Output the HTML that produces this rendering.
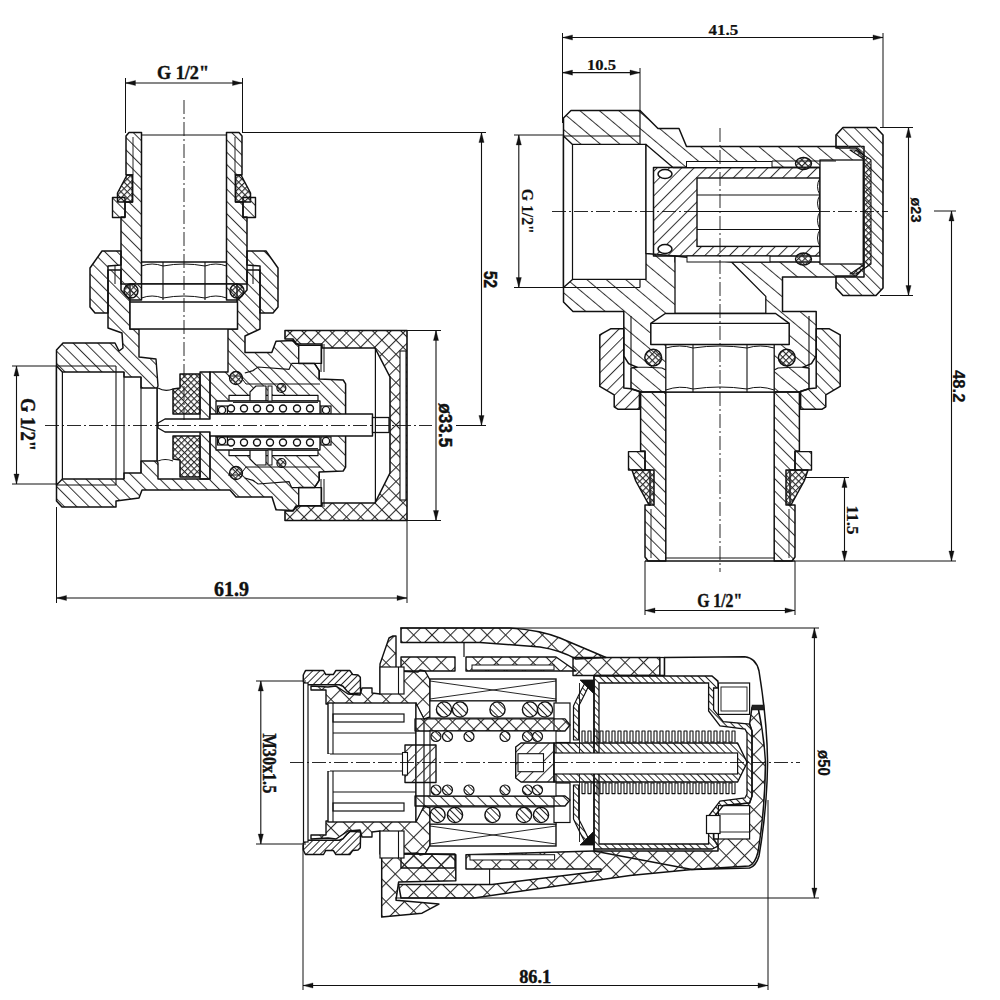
<!DOCTYPE html>
<html><head><meta charset="utf-8"><style>
html,body{margin:0;padding:0;background:#fff;}
svg{display:block;}
text{font-family:"Liberation Serif",serif;font-weight:bold;fill:#111;stroke:#111;stroke-width:0.5px;}
</style></head><body>
<svg width="1000" height="1000" viewBox="0 0 1000 1000">
<defs>
<pattern id="h" patternUnits="userSpaceOnUse" width="8.7" height="8.7" patternTransform="rotate(-45)"><rect x="0" y="0" width="1.0" height="8.7" fill="#333"/></pattern>
<pattern id="h2" patternUnits="userSpaceOnUse" width="8.7" height="8.7" patternTransform="rotate(45)"><rect x="0" y="0" width="1.0" height="8.7" fill="#333"/></pattern>
<pattern id="hm" patternUnits="userSpaceOnUse" width="12.5" height="12.5" patternTransform="rotate(-50)"><rect x="0" y="0" width="1.0" height="12.5" fill="#333"/></pattern>
<pattern id="hs" patternUnits="userSpaceOnUse" width="5" height="5" patternTransform="rotate(-45)"><rect x="0" y="0" width="1" height="5" fill="#2a2a2a"/></pattern>
<pattern id="hs2" patternUnits="userSpaceOnUse" width="5" height="5" patternTransform="rotate(45)"><rect x="0" y="0" width="1" height="5" fill="#2a2a2a"/></pattern>
<pattern id="x" patternUnits="userSpaceOnUse" width="10" height="10" patternTransform="rotate(45)"><rect x="0" y="0" width="1.05" height="10" fill="#2a2a2a"/><rect x="0" y="0" width="10" height="1.05" fill="#2a2a2a"/></pattern>
<pattern id="xl" patternUnits="userSpaceOnUse" width="13" height="13" patternTransform="rotate(45)"><rect x="0" y="0" width="1.05" height="13" fill="#2a2a2a"/><rect x="0" y="0" width="13" height="1.05" fill="#2a2a2a"/></pattern>
<pattern id="xs" patternUnits="userSpaceOnUse" width="4.5" height="4.5" patternTransform="rotate(45)"><rect x="0" y="0" width="1.1" height="4.5" fill="#2a2a2a"/><rect x="0" y="0" width="4.5" height="1.1" fill="#2a2a2a"/></pattern>
</defs>
<rect width="1000" height="1000" fill="#fff"/>

<polygon points="108,270 121,270 121,284 247,284 247,270 260,270 260,329 245,336 245,352.6 271.8,352.6 276,341.2 292.8,340.6 298.8,345.4 298.8,363.4 314.4,363.4 319.2,370.6 319.2,379 343.2,380 345.6,383.8 345.6,467.2 343.2,471 319.2,472 319.2,480.4 314.4,487.6 298.8,487.6 298.8,505.6 292.8,510.4 276,509.8 272,497 236,497 230,490 142,490 139,498 116,501 116,507 62,507 56.5,501 56.5,350 63,343 115,343 119,351 123,348 122,333 108,328" fill="url(#h)" stroke="#111" stroke-width="1.5" stroke-linejoin="round"/>
<polygon points="130,284 237,284 237,329 228,329 228,372 210,372 210,479 158,479 158,463 157,461 157,388 158,386 156,359 139,357 139,329 130,329" fill="#fff" stroke="#111" stroke-width="1.4" stroke-linejoin="round"/>
<polygon points="56.5,366 62.4,372 124,372 124,377 141,377 141,388 157,388 157,461 141,461 141,473 124,473 124,479 62.4,479 56.5,485" fill="#fff" stroke="#111" stroke-width="1.4" stroke-linejoin="round"/>
<line x1="56.5" y1="366" x2="116" y2="366" stroke="#111" stroke-width="1.2" />
<line x1="56.5" y1="485" x2="116" y2="485" stroke="#111" stroke-width="1.2" />
<line x1="62.4" y1="372" x2="62.4" y2="479" stroke="#111" stroke-width="1.2" />
<line x1="116" y1="366" x2="116" y2="485" stroke="#111" stroke-width="1.1" />
<line x1="124" y1="372" x2="124" y2="479" stroke="#111" stroke-width="1.1" />
<line x1="141" y1="377" x2="141" y2="473" stroke="#111" stroke-width="1.1" />
<path d="M158,388 Q165,392 173,389" fill="none" stroke="#111" stroke-width="1.2" stroke-linejoin="round"/>
<path d="M158,461 Q165,458 173,461" fill="none" stroke="#111" stroke-width="1.2" stroke-linejoin="round"/>
<polygon points="229,395.4 318,395.4 318,401 229,401" fill="#fff" stroke="#111" stroke-width="1.2" stroke-linejoin="round"/>
<polygon points="250,401 250,392 256,386 266,386 266,401" fill="#fff" stroke="#111" stroke-width="1.2" stroke-linejoin="round"/>
<polygon points="216,401 320,401 320,414 216,414" fill="#fff" stroke="#111" stroke-width="1.3" stroke-linejoin="round"/>
<line x1="233" y1="402.5" x2="318" y2="402.5" stroke="#111" stroke-width="0.9" />
<rect x="217.6" y="406" width="9.8" height="8" fill="#fff" stroke="#111" stroke-width="1.2"/>
<rect x="321" y="406" width="10" height="8" fill="#fff" stroke="#111" stroke-width="1.2"/>
<polygon points="298.8,345.4 321.6,345.4 321.6,363.4 298.8,363.4" fill="#fff" stroke="#111" stroke-width="1.2" stroke-linejoin="round"/>
<line x1="321" y1="344" x2="321" y2="372" stroke="#111" stroke-width="1.0" />
<line x1="324" y1="344" x2="324" y2="372" stroke="#111" stroke-width="1.0" />
<polyline points="291.6,363.4 314.4,363.4 319.2,370.6 319.2,379" fill="none" stroke="#111" stroke-width="1.2" />
<polyline points="244.8,373 253,370.6 258,367 289,369.4 291.6,363.4" fill="none" stroke="#111" stroke-width="1.2" />
<polyline points="228,376 240,376 246,384 320,384" fill="none" stroke="#111" stroke-width="1.0" />
<rect x="268" y="386" width="4" height="15" fill="#fff" stroke="#111" stroke-width="1.0"/>
<circle cx="231" cy="408.5" r="3.5" fill="#fff" stroke="#111" stroke-width="1.4"/>
<circle cx="244" cy="408.5" r="3.5" fill="#fff" stroke="#111" stroke-width="1.4"/>
<circle cx="257" cy="408.5" r="3.5" fill="#fff" stroke="#111" stroke-width="1.4"/>
<circle cx="270" cy="408.5" r="3.5" fill="#fff" stroke="#111" stroke-width="1.4"/>
<circle cx="283" cy="408.5" r="3.5" fill="#fff" stroke="#111" stroke-width="1.4"/>
<circle cx="297" cy="408.5" r="3.5" fill="#fff" stroke="#111" stroke-width="1.4"/>
<circle cx="310" cy="408.5" r="3.5" fill="#fff" stroke="#111" stroke-width="1.4"/>
<circle cx="222" cy="410" r="3.6" fill="#fff" stroke="#111" stroke-width="1.3"/>
<circle cx="326" cy="410" r="3.6" fill="#fff" stroke="#111" stroke-width="1.3"/>
<circle cx="236" cy="378" r="6.5" fill="url(#xs)" stroke="#111" stroke-width="1.3"/>
<circle cx="281.4" cy="388" r="4.5" fill="url(#xs)" stroke="#111" stroke-width="1.2"/>
<polygon points="229,455.6 318,455.6 318,450 229,450" fill="#fff" stroke="#111" stroke-width="1.2" stroke-linejoin="round"/>
<polygon points="250,450 250,459 256,465 266,465 266,450" fill="#fff" stroke="#111" stroke-width="1.2" stroke-linejoin="round"/>
<polygon points="216,450 320,450 320,437 216,437" fill="#fff" stroke="#111" stroke-width="1.3" stroke-linejoin="round"/>
<line x1="233" y1="448.5" x2="318" y2="448.5" stroke="#111" stroke-width="0.9" />
<rect x="217.6" y="437" width="9.8" height="8" fill="#fff" stroke="#111" stroke-width="1.2"/>
<rect x="321" y="437" width="10" height="8" fill="#fff" stroke="#111" stroke-width="1.2"/>
<polygon points="298.8,505.6 321.6,505.6 321.6,487.6 298.8,487.6" fill="#fff" stroke="#111" stroke-width="1.2" stroke-linejoin="round"/>
<line x1="321" y1="507" x2="321" y2="479" stroke="#111" stroke-width="1.0" />
<line x1="324" y1="507" x2="324" y2="479" stroke="#111" stroke-width="1.0" />
<polyline points="291.6,487.6 314.4,487.6 319.2,480.4 319.2,472" fill="none" stroke="#111" stroke-width="1.2" />
<polyline points="244.8,478 253,480.4 258,484 289,481.6 291.6,487.6" fill="none" stroke="#111" stroke-width="1.2" />
<polyline points="228,475 240,475 246,467 320,467" fill="none" stroke="#111" stroke-width="1.0" />
<rect x="268" y="450" width="4" height="15" fill="#fff" stroke="#111" stroke-width="1.0"/>
<circle cx="231" cy="442.5" r="3.5" fill="#fff" stroke="#111" stroke-width="1.4"/>
<circle cx="244" cy="442.5" r="3.5" fill="#fff" stroke="#111" stroke-width="1.4"/>
<circle cx="257" cy="442.5" r="3.5" fill="#fff" stroke="#111" stroke-width="1.4"/>
<circle cx="270" cy="442.5" r="3.5" fill="#fff" stroke="#111" stroke-width="1.4"/>
<circle cx="283" cy="442.5" r="3.5" fill="#fff" stroke="#111" stroke-width="1.4"/>
<circle cx="297" cy="442.5" r="3.5" fill="#fff" stroke="#111" stroke-width="1.4"/>
<circle cx="310" cy="442.5" r="3.5" fill="#fff" stroke="#111" stroke-width="1.4"/>
<circle cx="222" cy="441" r="3.6" fill="#fff" stroke="#111" stroke-width="1.3"/>
<circle cx="326" cy="441" r="3.6" fill="#fff" stroke="#111" stroke-width="1.3"/>
<circle cx="236" cy="473" r="6.5" fill="url(#xs)" stroke="#111" stroke-width="1.3"/>
<circle cx="281.4" cy="463" r="4.5" fill="url(#xs)" stroke="#111" stroke-width="1.2"/>
<polygon points="180,374 200,374 200,414 173,414 173,389 180,388" fill="url(#xs)" stroke="#111" stroke-width="1.5" stroke-linejoin="round"/>
<polygon points="173,436 200,436 200,477 180,477 180,460 173,459" fill="url(#xs)" stroke="#111" stroke-width="1.5" stroke-linejoin="round"/>
<polygon points="200,372 210,372 210,479 200,479" fill="url(#h)" stroke="#111" stroke-width="1.3" stroke-linejoin="round"/>
<polygon points="165,419 210,419 210,414 372.5,414 372.5,436 210,436 210,432 165,432 158,428 158,423" fill="#fff" stroke="#111" stroke-width="1.4" stroke-linejoin="round"/>
<rect x="372.5" y="417.5" width="16.5" height="15" fill="#fff" stroke="#111" stroke-width="1.3"/>
<polygon points="285,330.5 407,330.5 407,520.5 285,520.5 285,511 293,511 296,506 322,506 322,503 375,503 390,473 390,377 375,348 322,348 322,344 296,344 293,339 285,339" fill="url(#x)" stroke="#111" stroke-width="1.6" stroke-linejoin="round"/>
<rect x="400" y="351" width="6" height="149" fill="#fff" stroke="#111" stroke-width="1.1"/>
<line x1="375.4" y1="348" x2="375.4" y2="503" stroke="#111" stroke-width="1.2" />
<polygon points="129,132.5 141.5,132.5 141.5,300 130,300 121,290 121,217 125,217 125,202 132.5,202 132.5,175 126,175 126,136" fill="url(#h)" stroke="#111" stroke-width="1.5" stroke-linejoin="round"/>
<polygon points="239,132.5 226.5,132.5 226.5,300 238,300 247,290 247,217 243,217 243,202 235.5,202 235.5,175 242,175 242,136" fill="url(#h)" stroke="#111" stroke-width="1.5" stroke-linejoin="round"/>
<line x1="141.5" y1="135" x2="226.5" y2="135" stroke="#111" stroke-width="1.0" />
<line x1="133" y1="137" x2="133" y2="175" stroke="#111" stroke-width="0.9" />
<line x1="235" y1="137" x2="235" y2="175" stroke="#111" stroke-width="0.9" />
<polygon points="127,175 132.5,175 132.5,202 117.5,202 117.5,193" fill="url(#xs)" stroke="#111" stroke-width="1.5" stroke-linejoin="round"/>
<polygon points="241,175 235.5,175 235.5,202 250.5,202 250.5,193" fill="url(#xs)" stroke="#111" stroke-width="1.5" stroke-linejoin="round"/>
<polygon points="112.5,197.5 125,197.5 125,217.5 112.5,217.5" fill="url(#h)" stroke="#111" stroke-width="1.4" stroke-linejoin="round"/>
<polygon points="255.5,197.5 243,197.5 243,217.5 255.5,217.5" fill="url(#h)" stroke="#111" stroke-width="1.4" stroke-linejoin="round"/>
<polygon points="102,251 121,251 121,265 108,266 108,313 95,313 90,307 90,268" fill="url(#h)" stroke="#111" stroke-width="1.5" stroke-linejoin="round"/>
<polygon points="266,251 247,251 247,265 260,266 260,313 273,313 278,307 278,268" fill="url(#h)" stroke="#111" stroke-width="1.5" stroke-linejoin="round"/>
<line x1="115" y1="266" x2="115" y2="284" stroke="#111" stroke-width="1.0" />
<line x1="253" y1="266" x2="253" y2="284" stroke="#111" stroke-width="1.0" />
<line x1="141.5" y1="262" x2="226.5" y2="262" stroke="#111" stroke-width="1.3" />
<line x1="163" y1="262" x2="163" y2="300" stroke="#111" stroke-width="1.1" />
<line x1="205" y1="262" x2="205" y2="300" stroke="#111" stroke-width="1.1" />
<path d="M141.5,266 Q152,262 163,266 Q184,262 205,266 Q216,262 226.5,266" fill="none" stroke="#111" stroke-width="1.0" stroke-linejoin="round"/>
<path d="M141.5,298 Q152,294 163,298 Q184,294 205,298 Q216,294 226.5,298" fill="none" stroke="#111" stroke-width="1.0" stroke-linejoin="round"/>
<rect x="130" y="302" width="107.5" height="27" fill="#fff" stroke="#111" stroke-width="1.5"/>
<circle cx="131" cy="291" r="7" fill="url(#xs)" stroke="#111" stroke-width="1.4"/>
<circle cx="237" cy="291" r="7" fill="url(#xs)" stroke="#111" stroke-width="1.4"/>
<line x1="184" y1="100" x2="184" y2="420" stroke="#111" stroke-width="0.9" stroke-dasharray="14,3,2,3"/>
<line x1="45" y1="425.5" x2="432" y2="425.5" stroke="#111" stroke-width="0.9" stroke-dasharray="14,3,2,3"/>
<line x1="456" y1="425.5" x2="486" y2="425.5" stroke="#111" stroke-width="1.0" />
<polygon points="563.5,118 571,110.5 640,110.5 658,128.5 679,128.5 686.5,146.5 864,146.5 864,277 782.5,277 782.5,311.5 816.2,311.5 816.2,356 811.4,363.6 803,367.2 809,368 809,388.8 799.4,392 640.6,392 631,388.8 631,368 637,367.2 628.6,363.6 623.8,356 623.8,311.5 573,311.5 563.5,302" fill="url(#hm)" stroke="#111" stroke-width="1.5" stroke-linejoin="round"/>
<polygon points="563.5,136 572.5,144.4 646,144.4 646,279.4 572.5,279.4 563.5,287.5" fill="#fff" stroke="#111" stroke-width="1.4" stroke-linejoin="round"/>
<line x1="563.5" y1="136" x2="640" y2="136" stroke="#111" stroke-width="1.2" />
<line x1="563.5" y1="287.5" x2="640" y2="287.5" stroke="#111" stroke-width="1.2" />
<line x1="640" y1="110.5" x2="640" y2="144.4" stroke="#111" stroke-width="1.2" />
<line x1="640" y1="279.4" x2="640" y2="287.5" stroke="#111" stroke-width="1.2" />
<line x1="572.5" y1="144.4" x2="572.5" y2="279.4" stroke="#111" stroke-width="1.2" />
<polygon points="646,144.4 673,167.5 836,167.5 836,262 675,262 675,256 646,253.5" fill="#fff" stroke="#111" stroke-width="1.3" stroke-linejoin="round"/>
<polygon points="675,256 731.5,262 765.8,296.4 765.8,313.5 675,313.5" fill="#fff" stroke="#111" stroke-width="1.3" stroke-linejoin="round"/>
<polygon points="653.5,167.5 820,167.5 820,256 653.5,256" fill="url(#h2)" stroke="#111" stroke-width="1.5" stroke-linejoin="round"/>
<rect x="697" y="178" width="123" height="68.4" fill="#fff" stroke="#111" stroke-width="1.4"/>
<line x1="697" y1="195" x2="820" y2="195" stroke="#111" stroke-width="1.1" />
<line x1="697" y1="211.5" x2="820" y2="211.5" stroke="#111" stroke-width="1.1" />
<line x1="697" y1="229.5" x2="820" y2="229.5" stroke="#111" stroke-width="1.1" />
<path d="M820,178 Q815,186.5 820,195 Q815,203 820,211.5 Q815,220 820,229.5 Q815,238 820,246.4" fill="none" stroke="#111" stroke-width="1.0" stroke-linejoin="round"/>
<rect x="820" y="160" width="43.5" height="104" fill="#fff" stroke="#111" stroke-width="1.3"/>
<line x1="772" y1="161" x2="836" y2="161" stroke="#111" stroke-width="1.0" />
<rect x="686.5" y="161.5" width="85.5" height="6" fill="#fff" stroke="#111" stroke-width="1.0"/>
<rect x="687" y="256" width="83" height="6" fill="#fff" stroke="#111" stroke-width="1.0"/>
<ellipse cx="665" cy="174" rx="7" ry="4.5" fill="#fff" stroke="#111" stroke-width="1.5"/>
<ellipse cx="665" cy="249" rx="7" ry="4.5" fill="#fff" stroke="#111" stroke-width="1.5"/>
<ellipse cx="803.5" cy="163.5" rx="8" ry="6" fill="url(#xs)" stroke="#111" stroke-width="1.4"/>
<ellipse cx="803.5" cy="259" rx="8" ry="6" fill="url(#xs)" stroke="#111" stroke-width="1.4"/>
<polygon points="836,135 843,127.5 876,127.5 883,135 883,288 876,295.5 843,295.5 836,288 836,276 856,276 863.5,268 863.5,155 856,148 836,148" fill="url(#h)" stroke="#111" stroke-width="1.6" stroke-linejoin="round"/>
<polygon points="850,150 856,150 871,160 871,264 856,274 850,274 863.5,265 863.5,159" fill="url(#xs)" stroke="#111" stroke-width="1.1" stroke-linejoin="round"/>
<line x1="631" y1="316" x2="631" y2="367" stroke="#111" stroke-width="1.1" />
<line x1="809" y1="316" x2="809" y2="367" stroke="#111" stroke-width="1.1" />
<polygon points="640.6,392 665.8,392 665.8,561 648,561 645,557 645,505 650,505 650,470 645,470 645,451 640.6,451" fill="url(#h)" stroke="#111" stroke-width="1.5" stroke-linejoin="round"/>
<polygon points="799.4,392 774.2,392 774.2,561 792,561 795,557 795,505 790,505 790,470 795,470 795,451 799.4,451" fill="url(#h)" stroke="#111" stroke-width="1.5" stroke-linejoin="round"/>
<line x1="651" y1="509" x2="651" y2="558" stroke="#111" stroke-width="0.9" />
<line x1="789" y1="509" x2="789" y2="558" stroke="#111" stroke-width="0.9" />
<line x1="665.8" y1="558" x2="774.2" y2="558" stroke="#111" stroke-width="1.0" />
<line x1="645" y1="561" x2="795" y2="561" stroke="#111" stroke-width="1.5" />
<polygon points="632,470 654,470 654,505 649,505 635.8,481" fill="url(#xs)" stroke="#111" stroke-width="1.5" stroke-linejoin="round"/>
<polygon points="808,470 786,470 786,505 791,505 804.2,481" fill="url(#xs)" stroke="#111" stroke-width="1.5" stroke-linejoin="round"/>
<polygon points="628.5,451.6 645,451.6 645,470 628.5,470" fill="url(#h)" stroke="#111" stroke-width="1.4" stroke-linejoin="round"/>
<polygon points="811.5,451.6 795,451.6 795,470 811.5,470" fill="url(#h)" stroke="#111" stroke-width="1.4" stroke-linejoin="round"/>
<polygon points="610.6,328.8 623.8,328.8 623.8,388 631,388.8 639.4,391.2 639.4,409.2 617.8,409.2 614.2,406.8 614.2,394.8 599.8,386.4 599.8,334.8" fill="url(#h2)" stroke="#111" stroke-width="1.5" stroke-linejoin="round"/>
<polygon points="829.4,328.8 816.2,328.8 816.2,388 809,388.8 800.6,391.2 800.6,409.2 822.2,409.2 825.8,406.8 825.8,394.8 840.2,386.4 840.2,334.8" fill="url(#h)" stroke="#111" stroke-width="1.5" stroke-linejoin="round"/>
<rect x="665.8" y="344.4" width="108.4" height="47.6" fill="#fff" stroke="#111" stroke-width="1.3"/>
<line x1="693" y1="344.4" x2="693" y2="392" stroke="#111" stroke-width="1.1" />
<line x1="747" y1="344.4" x2="747" y2="392" stroke="#111" stroke-width="1.1" />
<path d="M665.8,348 Q680,344 693,348 Q720,344 747,348 Q760,344 774.2,348" fill="none" stroke="#111" stroke-width="1.0" stroke-linejoin="round"/>
<path d="M665.8,390 Q680,385 693,389 Q720,385 747,389 Q760,385 774.2,390" fill="none" stroke="#111" stroke-width="1.0" stroke-linejoin="round"/>
<polygon points="650.8,344.4 650.8,323.4 665.3,313.5 775.6,313.5 789.2,323.4 789.2,344.4" fill="#fff" stroke="#111" stroke-width="1.5" stroke-linejoin="round"/>
<line x1="650.8" y1="323.4" x2="789.2" y2="323.4" stroke="#111" stroke-width="1.1" />
<polyline points="637,367.2 647,367.2 662,368 665.8,370" fill="none" stroke="#111" stroke-width="1.1" />
<polyline points="803,367.2 793,367.2 778,368 774.2,370" fill="none" stroke="#111" stroke-width="1.1" />
<circle cx="653.2" cy="357.6" r="8.4" fill="url(#xs)" stroke="#111" stroke-width="1.5"/>
<circle cx="786.8" cy="357.6" r="8.4" fill="url(#xs)" stroke="#111" stroke-width="1.5"/>
<line x1="720" y1="128" x2="720" y2="572" stroke="#111" stroke-width="0.9" stroke-dasharray="14,3,2,3"/>
<line x1="552" y1="211.5" x2="888" y2="211.5" stroke="#111" stroke-width="0.9" stroke-dasharray="14,3,2,3"/>
<path d="M401,628 L510,628 Q540,630 560,638 L606,657.5 L576,659 Q560,650 540,647 L480,642.5 L401,642.5 Z" fill="url(#xl)" stroke="#111" stroke-width="1.5" stroke-linejoin="round"/>
<line x1="464" y1="642.5" x2="464" y2="657" stroke="#111" stroke-width="1.2" />
<polygon points="401,657 455,657 455,671 401,671" fill="url(#xl)" stroke="#111" stroke-width="1.4" stroke-linejoin="round"/>
<polygon points="466,657 556,657 576,671 466,671" fill="url(#xl)" stroke="#111" stroke-width="1.4" stroke-linejoin="round"/>
<rect x="472" y="665" width="82" height="5" fill="#fff" stroke="#111" stroke-width="1.0"/>
<polygon points="573,657.5 660,657.5 660,675.5 573,675.5" fill="url(#xl)" stroke="#111" stroke-width="1.4" stroke-linejoin="round"/>
<rect x="660" y="657.5" width="4.5" height="18" fill="#fff" stroke="#111" stroke-width="1.2"/>
<path d="M664.5,657.5 L744.8,656.8 Q756,658 759,671 Q767,720 767.6,762 Q767,810 759,856 Q756,866 749.6,868 L692,869.5 L594,851 L594,675.5 L664.5,675.5 Z" fill="#fff" stroke="#111" stroke-width="1.5" stroke-linejoin="round"/>
<path d="M466,854.7 L594,851 L718,851 L718,846 L713.6,839 L713.6,817.6 L723.2,805.6 L749.6,803 L752,796 L752,731 L749.6,724 L752,707 L758,707 Q764,735 765.5,762 Q765,810 758,852 Q755,864 749,866 L692,869.5 L630,875.5 L474,898 L401,898 L398.6,884.6 L492,884.6 L601,871 L601,869 L466,869 Z" fill="url(#xl)" stroke="#111" stroke-width="1.5" stroke-linejoin="round"/>
<rect x="752" y="705" width="12" height="5" fill="#222" stroke="#111" stroke-width="0.5"/>
<rect x="718.4" y="683" width="31.2" height="31.4" fill="#fff" stroke="#111" stroke-width="1.2"/>
<rect x="721" y="687" width="26" height="24" fill="none" stroke="#111" stroke-width="0.9"/>
<rect x="718.4" y="805.6" width="31.2" height="33.4" fill="#fff" stroke="#111" stroke-width="1.2"/>
<line x1="718.4" y1="814" x2="749.6" y2="814" stroke="#111" stroke-width="0.9" />
<line x1="718.4" y1="832" x2="749.6" y2="832" stroke="#111" stroke-width="0.9" />
<rect x="470" y="854.7" width="84.6" height="5.3" fill="#fff" stroke="#111" stroke-width="1.0"/>
<line x1="489.6" y1="869" x2="489.6" y2="884.6" stroke="#111" stroke-width="1.1" />
<polygon points="381.7,856 404,853.4 455.8,854.7 455.8,880.7 398.6,882 396,900.2 438.9,904.1 422,913.2 381.7,917.1" fill="url(#xl)" stroke="#111" stroke-width="1.5" stroke-linejoin="round"/>
<polygon points="401,854 455,854 455,868 401,868" fill="url(#xl)" stroke="#111" stroke-width="1.4" stroke-linejoin="round"/>
<polygon points="303.3,675 305.5,670.5 323.5,670.5 325.8,674.6 333.3,674.6 335.9,670.5 349.8,670.5 352.8,674.6 358,675 360.3,677.3 360.6,693 350.5,693.8 346.8,690.8 343,686.3 339.3,684.8 307.8,684.8 303.3,681.8" fill="url(#hs2)" stroke="#111" stroke-width="1.5" stroke-linejoin="round"/>
<polygon points="303.3,850 305.5,854.5 323.5,854.5 325.8,850.4 333.3,850.4 335.9,854.5 349.8,854.5 352.8,850.4 358,850 360.3,847.7 360.6,832 350.5,831.2 346.8,834.2 343,838.7 339.3,840.2 307.8,840.2 303.3,843.2" fill="url(#hs2)" stroke="#111" stroke-width="1.5" stroke-linejoin="round"/>
<rect x="303.5" y="683" width="4.5" height="159" fill="#fff" stroke="#111" stroke-width="1.2"/>
<polygon points="311,686 328,687 336,686 348,694 360,695 362,688 372,688 372,693 380,694 380,664 389,638 393,636 396,636 396,671 418,672 420,670 425,671 430,680 430,717 424,719 416,704 326,704 326,690 311,690" fill="url(#xl)" stroke="#111" stroke-width="1.4" stroke-linejoin="round"/>
<polygon points="311,839 328,838 336,839 348,831 360,830 362,837 372,837 372,832 380,831 380,854 396,854 418,853 420,855 425,854 430,845 430,808 424,806 416,821 326,821 326,835 311,835" fill="url(#xl)" stroke="#111" stroke-width="1.4" stroke-linejoin="round"/>
<rect x="380" y="667" width="24" height="27" fill="#fff" stroke="#111" stroke-width="1.2"/>
<line x1="398.5" y1="667" x2="398.5" y2="694" stroke="#111" stroke-width="1.1" />
<rect x="380" y="831" width="24" height="27" fill="#fff" stroke="#111" stroke-width="1.2"/>
<line x1="398.5" y1="831" x2="398.5" y2="858" stroke="#111" stroke-width="1.1" />
<rect x="328" y="703" width="88" height="119" fill="#fff" stroke="#111" stroke-width="1.4"/>
<polygon points="416,703 424,719 424,806 416,822" fill="#fff" stroke="#111" stroke-width="1.2" stroke-linejoin="round"/>
<rect x="333" y="714" width="71" height="8" fill="#fff" stroke="#111" stroke-width="1.2"/>
<rect x="333" y="803" width="71" height="8" fill="#fff" stroke="#111" stroke-width="1.2"/>
<line x1="333" y1="733" x2="416" y2="733" stroke="#111" stroke-width="1.2" />
<line x1="333" y1="792" x2="416" y2="792" stroke="#111" stroke-width="1.2" />
<line x1="328" y1="754" x2="404" y2="754" stroke="#111" stroke-width="1.2" />
<line x1="328" y1="771" x2="404" y2="771" stroke="#111" stroke-width="1.2" />
<line x1="333" y1="703" x2="333" y2="754" stroke="#111" stroke-width="1.1" />
<line x1="333" y1="771" x2="333" y2="822" stroke="#111" stroke-width="1.1" />
<rect x="326" y="754" width="4" height="17" fill="#fff" stroke="#111" stroke-width="0"/>
<rect x="430" y="679" width="126" height="22" fill="#fff" stroke="#111" stroke-width="1.4"/>
<line x1="430" y1="681" x2="556" y2="699" stroke="#111" stroke-width="0.9" />
<line x1="430" y1="699" x2="556" y2="681" stroke="#111" stroke-width="0.9" />
<rect x="430" y="824" width="126" height="22" fill="#fff" stroke="#111" stroke-width="1.4"/>
<line x1="430" y1="826" x2="556" y2="844" stroke="#111" stroke-width="0.9" />
<line x1="430" y1="844" x2="556" y2="826" stroke="#111" stroke-width="0.9" />
<rect x="430" y="701" width="126" height="17" fill="#fff" stroke="#111" stroke-width="1.0"/>
<rect x="430" y="807" width="126" height="17" fill="#fff" stroke="#111" stroke-width="1.0"/>
<circle cx="444" cy="709.5" r="7.6" fill="url(#hs)" stroke="#111" stroke-width="1.4"/>
<circle cx="460" cy="709.5" r="7.6" fill="url(#hs)" stroke="#111" stroke-width="1.4"/>
<circle cx="497.5" cy="709.5" r="7.6" fill="url(#hs)" stroke="#111" stroke-width="1.4"/>
<circle cx="530" cy="709.5" r="7.6" fill="url(#hs)" stroke="#111" stroke-width="1.4"/>
<circle cx="545" cy="709.5" r="7.6" fill="url(#hs)" stroke="#111" stroke-width="1.4"/>
<circle cx="437.5" cy="815" r="7.6" fill="url(#hs)" stroke="#111" stroke-width="1.4"/>
<circle cx="455" cy="815" r="7.6" fill="url(#hs)" stroke="#111" stroke-width="1.4"/>
<circle cx="492.5" cy="815" r="7.6" fill="url(#hs)" stroke="#111" stroke-width="1.4"/>
<circle cx="524" cy="815" r="7.6" fill="url(#hs)" stroke="#111" stroke-width="1.4"/>
<circle cx="541" cy="815" r="7.6" fill="url(#hs)" stroke="#111" stroke-width="1.4"/>
<rect x="554" y="703" width="16" height="39.5" fill="#fff" stroke="#111" stroke-width="1.2"/>
<rect x="554" y="783" width="16" height="39.5" fill="#fff" stroke="#111" stroke-width="1.2"/>
<polygon points="415,718.8 565,718.8 570,725 565,731 415,731" fill="url(#x)" stroke="#111" stroke-width="1.3" stroke-linejoin="round"/>
<polygon points="415,796 565,796 570,800 565,806 415,806" fill="url(#h)" stroke="#111" stroke-width="1.3" stroke-linejoin="round"/>
<rect x="430" y="731" width="126" height="65" fill="#fff" stroke="#111" stroke-width="1.1"/>
<circle cx="436" cy="736.5" r="5" fill="url(#hs)" stroke="#111" stroke-width="1.2"/>
<circle cx="436" cy="790" r="5" fill="url(#hs)" stroke="#111" stroke-width="1.2"/>
<circle cx="447.5" cy="736.5" r="5" fill="url(#hs)" stroke="#111" stroke-width="1.2"/>
<circle cx="447.5" cy="790" r="5" fill="url(#hs)" stroke="#111" stroke-width="1.2"/>
<circle cx="469" cy="736.5" r="5" fill="url(#hs)" stroke="#111" stroke-width="1.2"/>
<circle cx="469" cy="790" r="5" fill="url(#hs)" stroke="#111" stroke-width="1.2"/>
<circle cx="505" cy="736.5" r="5" fill="url(#hs)" stroke="#111" stroke-width="1.2"/>
<circle cx="505" cy="790" r="5" fill="url(#hs)" stroke="#111" stroke-width="1.2"/>
<circle cx="527.5" cy="736.5" r="5" fill="url(#hs)" stroke="#111" stroke-width="1.2"/>
<circle cx="527.5" cy="790" r="5" fill="url(#hs)" stroke="#111" stroke-width="1.2"/>
<circle cx="537.5" cy="736.5" r="5" fill="url(#hs)" stroke="#111" stroke-width="1.2"/>
<circle cx="537.5" cy="790" r="5" fill="url(#hs)" stroke="#111" stroke-width="1.2"/>
<polygon points="405,745 436,745 436,782.5 405,782.5" fill="url(#h2)" stroke="#111" stroke-width="1.4" stroke-linejoin="round"/>
<rect x="402.5" y="752.5" width="5" height="22.5" fill="#fff" stroke="#111" stroke-width="1.1"/>
<path d="M594,676 L712,676 L718,681 L718,688 L713.6,688 L713.6,709.6 L723.2,721.6 L749.6,724 L752,731 L752,796 L749.6,803 L723.2,805.6 L713.6,817.6 L713.6,839 L718,839 L718,846 L712,849 L594,849 Z M599,683 L708.6,683 L708.6,711 L720,726 L745,729 L747,733 L747,794 L745,798 L720,801 L708.6,816 L708.6,844 L599,844 Z" fill="url(#hs)" fill-rule="evenodd" stroke="#111" stroke-width="1.3"/>
<path d="M590,683 Q586,692 578.7,706 L578.7,740 L573.5,740 L573.5,706 Q580,692 585,683 Z" fill="url(#hs)" stroke="#111" stroke-width="1.2" stroke-linejoin="round"/>
<path d="M590,842 Q586,833 578.7,819 L578.7,785 L573.5,785 L573.5,819 Q580,833 585,842 Z" fill="url(#hs)" stroke="#111" stroke-width="1.2" stroke-linejoin="round"/>
<line x1="579.5" y1="683" x2="579.5" y2="842" stroke="#111" stroke-width="0.9" />
<polygon points="580,680 594,680 594,694" fill="#111" stroke="#111" stroke-width="0.8" stroke-linejoin="round"/>
<polygon points="580,845 594,845 594,831" fill="#111" stroke="#111" stroke-width="0.8" stroke-linejoin="round"/>
<path d="M582,742 L582,742 L582,731 L585,731 L585,742 L588,742 L588,731 L591,731 L591,742 L594,742 L594,731 L597,731 L597,742 L600,742 L600,731 L603,731 L603,742 L606,742 L606,731 L609,731 L609,742 L612,742 L612,731 L615,731 L615,742 L618,742 L618,731 L621,731 L621,742 L624,742 L624,731 L627,731 L627,742 L630,742 L630,731 L633,731 L633,742 L636,742 L636,731 L639,731 L639,742 L642,742 L642,731 L645,731 L645,742 L648,742 L648,731 L651,731 L651,742 L654,742 L654,731 L657,731 L657,742 L660,742 L660,731 L663,731 L663,742 L666,742 L666,731 L669,731 L669,742 L672,742 L672,731 L675,731 L675,742 L678,742 L678,731 L681,731 L681,742 L684,742 L684,731 L687,731 L687,742 L690,742 L690,731 L693,731 L693,742 L696,742 L696,731 L699,731 L699,742 L702,742 L702,731 L705,731 L705,742 L708,742 L708,731 L711,731 L711,742 L714,742 L714,731 L717,731 L717,742 L720,742 L720,731 L723,731 L723,742 L726,742 L726,731 L729,731 L729,742 L732,742 L732,731 L735,731 L735,742" fill="none" stroke="#111" stroke-width="1.1" stroke-linejoin="round"/>
<path d="M582,784 L582,783 L582,793.6 L585,793.6 L585,783 L588,783 L588,793.6 L591,793.6 L591,783 L594,783 L594,793.6 L597,793.6 L597,783 L600,783 L600,793.6 L603,793.6 L603,783 L606,783 L606,793.6 L609,793.6 L609,783 L612,783 L612,793.6 L615,793.6 L615,783 L618,783 L618,793.6 L621,793.6 L621,783 L624,783 L624,793.6 L627,793.6 L627,783 L630,783 L630,793.6 L633,793.6 L633,783 L636,783 L636,793.6 L639,793.6 L639,783 L642,783 L642,793.6 L645,793.6 L645,783 L648,783 L648,793.6 L651,793.6 L651,783 L654,783 L654,793.6 L657,793.6 L657,783 L660,783 L660,793.6 L663,793.6 L663,783 L666,783 L666,793.6 L669,793.6 L669,783 L672,783 L672,793.6 L675,793.6 L675,783 L678,783 L678,793.6 L681,793.6 L681,783 L684,783 L684,793.6 L687,793.6 L687,783 L690,783 L690,793.6 L693,793.6 L693,783 L696,783 L696,793.6 L699,793.6 L699,783 L702,783 L702,793.6 L705,793.6 L705,783 L708,783 L708,793.6 L711,793.6 L711,783 L714,783 L714,793.6 L717,793.6 L717,783 L720,783 L720,793.6 L723,793.6 L723,783 L726,783 L726,793.6 L729,793.6 L729,783 L732,783 L732,793.6 L735,793.6 L735,783" fill="none" stroke="#111" stroke-width="1.1" stroke-linejoin="round"/>
<path d="M554,743 L737.6,743 L747.2,762.5 L737.6,782 L554,782 Z" fill="url(#hs)" stroke="#111" stroke-width="1.4" stroke-linejoin="round"/>
<rect x="554" y="753" width="183.6" height="21" fill="#fff" stroke="#111" stroke-width="1.2"/>
<polygon points="515.7,747 521,743 554,743 554,782 521,782 515.7,778" fill="url(#h2)" stroke="#111" stroke-width="1.4" stroke-linejoin="round"/>
<rect x="518" y="753.7" width="25.5" height="18" fill="#fff" stroke="#111" stroke-width="1.1"/>
<rect x="706.5" y="815.5" width="13.5" height="18" fill="#fff" stroke="#111" stroke-width="1.2"/>
<line x1="290" y1="762.5" x2="800" y2="762.5" stroke="#111" stroke-width="0.9" stroke-dasharray="14,3,2,3"/>
<line x1="125.5" y1="83" x2="242.5" y2="83" stroke="#111" stroke-width="1.1" /><polygon points="125.5,83 135.5,80.4 135.5,85.6" fill="#111" stroke="#111" stroke-width="0.3" stroke-linejoin="round"/><polygon points="242.5,83 232.5,85.6 232.5,80.4" fill="#111" stroke="#111" stroke-width="0.3" stroke-linejoin="round"/>
<line x1="125.5" y1="78" x2="125.5" y2="133" stroke="#111" stroke-width="1.0" />
<line x1="242.5" y1="78" x2="242.5" y2="133" stroke="#111" stroke-width="1.0" />
<text x="157" y="79" font-size="19.8" textLength="52" lengthAdjust="spacingAndGlyphs" style="font-family:'Liberation Serif',serif;stroke-width:0.45px">G 1/2&quot;</text>
<line x1="481.5" y1="132.5" x2="481.5" y2="425.5" stroke="#111" stroke-width="1.1" /><polygon points="481.5,132.5 484.1,142.5 478.9,142.5" fill="#111" stroke="#111" stroke-width="0.3" stroke-linejoin="round"/><polygon points="481.5,425.5 478.9,415.5 484.1,415.5" fill="#111" stroke="#111" stroke-width="0.3" stroke-linejoin="round"/>
<line x1="242" y1="132.5" x2="486" y2="132.5" stroke="#111" stroke-width="1.0" />
<text transform="translate(484.3,271) rotate(90)" font-size="18.6" textLength="17" lengthAdjust="spacingAndGlyphs" style="font-family:'Liberation Sans',sans-serif;stroke-width:0.45px">52</text>
<line x1="436" y1="330.5" x2="436" y2="520.5" stroke="#111" stroke-width="1.1" /><polygon points="436,330.5 438.6,340.5 433.4,340.5" fill="#111" stroke="#111" stroke-width="0.3" stroke-linejoin="round"/><polygon points="436,520.5 433.4,510.5 438.6,510.5" fill="#111" stroke="#111" stroke-width="0.3" stroke-linejoin="round"/>
<line x1="407" y1="330.5" x2="441" y2="330.5" stroke="#111" stroke-width="1.0" />
<line x1="407" y1="520.5" x2="441" y2="520.5" stroke="#111" stroke-width="1.0" />
<text transform="translate(439.3,403.3) rotate(90)" font-size="17.7" textLength="44" lengthAdjust="spacingAndGlyphs" style="font-family:'Liberation Sans',sans-serif;stroke-width:0.45px">&#248;33.5</text>
<line x1="16.5" y1="366" x2="16.5" y2="484" stroke="#111" stroke-width="1.1" /><polygon points="16.5,366 19.1,376 13.9,376" fill="#111" stroke="#111" stroke-width="0.3" stroke-linejoin="round"/><polygon points="16.5,484 13.9,474 19.1,474" fill="#111" stroke="#111" stroke-width="0.3" stroke-linejoin="round"/>
<line x1="12" y1="366" x2="57" y2="366" stroke="#111" stroke-width="1.0" />
<line x1="12" y1="484" x2="57" y2="484" stroke="#111" stroke-width="1.0" />
<text transform="translate(20.8,398) rotate(90)" font-size="20.6" textLength="53" lengthAdjust="spacingAndGlyphs" style="font-family:'Liberation Serif',serif;stroke-width:0.45px">G 1/2&quot;</text>
<line x1="56.5" y1="598" x2="407" y2="598" stroke="#111" stroke-width="1.1" /><polygon points="56.5,598 66.5,595.4 66.5,600.6" fill="#111" stroke="#111" stroke-width="0.3" stroke-linejoin="round"/><polygon points="407,598 397,600.6 397,595.4" fill="#111" stroke="#111" stroke-width="0.3" stroke-linejoin="round"/>
<line x1="56.5" y1="507" x2="56.5" y2="603" stroke="#111" stroke-width="1.0" />
<line x1="407" y1="520" x2="407" y2="603" stroke="#111" stroke-width="1.0" />
<text x="214" y="596" font-size="21.4" textLength="35" lengthAdjust="spacingAndGlyphs" style="font-family:'Liberation Serif',serif;stroke-width:0.45px">61.9</text>
<line x1="562.5" y1="37.5" x2="883" y2="37.5" stroke="#111" stroke-width="1.1" /><polygon points="562.5,37.5 572.5,34.9 572.5,40.1" fill="#111" stroke="#111" stroke-width="0.3" stroke-linejoin="round"/><polygon points="883,37.5 873,40.1 873,34.9" fill="#111" stroke="#111" stroke-width="0.3" stroke-linejoin="round"/>
<line x1="562.5" y1="33" x2="562.5" y2="123" stroke="#111" stroke-width="1.0" />
<line x1="883" y1="33" x2="883" y2="128" stroke="#111" stroke-width="1.0" />
<text x="708.6" y="34.8" font-size="15.3" textLength="29.7" lengthAdjust="spacingAndGlyphs" style="font-family:'Liberation Serif',serif;stroke-width:0.2px">41.5</text>
<line x1="562.5" y1="72.6" x2="640" y2="72.6" stroke="#111" stroke-width="1.1" /><polygon points="562.5,72.6 572.5,70 572.5,75.2" fill="#111" stroke="#111" stroke-width="0.3" stroke-linejoin="round"/><polygon points="640,72.6 630,75.2 630,70" fill="#111" stroke="#111" stroke-width="0.3" stroke-linejoin="round"/>
<line x1="640" y1="68" x2="640" y2="111" stroke="#111" stroke-width="1.0" />
<text x="587" y="70" font-size="15.3" textLength="29" lengthAdjust="spacingAndGlyphs" style="font-family:'Liberation Serif',serif;stroke-width:0.2px">10.5</text>
<line x1="518.8" y1="135" x2="518.8" y2="287.5" stroke="#111" stroke-width="1.1" /><polygon points="518.8,135 521.4,145 516.2,145" fill="#111" stroke="#111" stroke-width="0.3" stroke-linejoin="round"/><polygon points="518.8,287.5 516.2,277.5 521.4,277.5" fill="#111" stroke="#111" stroke-width="0.3" stroke-linejoin="round"/>
<line x1="514" y1="135" x2="564" y2="135" stroke="#111" stroke-width="1.0" />
<line x1="514" y1="287.5" x2="564" y2="287.5" stroke="#111" stroke-width="1.0" />
<text transform="translate(522.2,188.8) rotate(90)" font-size="17.1" textLength="45" lengthAdjust="spacingAndGlyphs" style="font-family:'Liberation Serif',serif;stroke-width:0.2px">G 1/2&quot;</text>
<line x1="908.5" y1="127.5" x2="908.5" y2="295.5" stroke="#111" stroke-width="1.1" /><polygon points="908.5,127.5 911.1,137.5 905.9,137.5" fill="#111" stroke="#111" stroke-width="0.3" stroke-linejoin="round"/><polygon points="908.5,295.5 905.9,285.5 911.1,285.5" fill="#111" stroke="#111" stroke-width="0.3" stroke-linejoin="round"/>
<line x1="880" y1="127.5" x2="913" y2="127.5" stroke="#111" stroke-width="1.0" />
<line x1="880" y1="295.5" x2="913" y2="295.5" stroke="#111" stroke-width="1.0" />
<text transform="translate(911,197.5) rotate(90)" font-size="14" textLength="25" lengthAdjust="spacingAndGlyphs" style="font-family:'Liberation Sans',sans-serif;stroke-width:0.2px">&#248;23</text>
<line x1="951.5" y1="211" x2="951.5" y2="561" stroke="#111" stroke-width="1.1" /><polygon points="951.5,211 954.1,221 948.9,221" fill="#111" stroke="#111" stroke-width="0.3" stroke-linejoin="round"/><polygon points="951.5,561 948.9,551 954.1,551" fill="#111" stroke="#111" stroke-width="0.3" stroke-linejoin="round"/>
<line x1="934" y1="211" x2="956" y2="211" stroke="#111" stroke-width="1.0" />
<line x1="795" y1="561" x2="956" y2="561" stroke="#111" stroke-width="1.0" />
<text transform="translate(952.5,370) rotate(90)" font-size="16.1" textLength="32.5" lengthAdjust="spacingAndGlyphs" style="font-family:'Liberation Sans',sans-serif;stroke-width:0.2px">48.2</text>
<line x1="844.5" y1="477.5" x2="844.5" y2="561" stroke="#111" stroke-width="1.1" /><polygon points="844.5,477.5 847.1,487.5 841.9,487.5" fill="#111" stroke="#111" stroke-width="0.3" stroke-linejoin="round"/><polygon points="844.5,561 841.9,551 847.1,551" fill="#111" stroke="#111" stroke-width="0.3" stroke-linejoin="round"/>
<line x1="806" y1="477.5" x2="849" y2="477.5" stroke="#111" stroke-width="1.0" />
<text transform="translate(847,505.6) rotate(90)" font-size="17.4" textLength="29" lengthAdjust="spacingAndGlyphs" style="font-family:'Liberation Serif',serif;stroke-width:0.2px">11.5</text>
<line x1="645" y1="610.5" x2="795" y2="610.5" stroke="#111" stroke-width="1.1" /><polygon points="645,610.5 655,607.9 655,613.1" fill="#111" stroke="#111" stroke-width="0.3" stroke-linejoin="round"/><polygon points="795,610.5 785,613.1 785,607.9" fill="#111" stroke="#111" stroke-width="0.3" stroke-linejoin="round"/>
<line x1="645" y1="561" x2="645" y2="615" stroke="#111" stroke-width="1.0" />
<line x1="795" y1="561" x2="795" y2="615" stroke="#111" stroke-width="1.0" />
<text x="697.2" y="606.8" font-size="18.9" textLength="45" lengthAdjust="spacingAndGlyphs" style="font-family:'Liberation Serif',serif;stroke-width:0.45px">G 1/2&quot;</text>
<line x1="260.8" y1="681" x2="260.8" y2="844" stroke="#111" stroke-width="1.1" /><polygon points="260.8,681 263.4,691 258.2,691" fill="#111" stroke="#111" stroke-width="0.3" stroke-linejoin="round"/><polygon points="260.8,844 258.2,834 263.4,834" fill="#111" stroke="#111" stroke-width="0.3" stroke-linejoin="round"/>
<line x1="256" y1="681" x2="306" y2="681" stroke="#111" stroke-width="1.0" />
<line x1="256" y1="844" x2="306" y2="844" stroke="#111" stroke-width="1.0" />
<text transform="translate(263.2,733.6) rotate(90)" font-size="19.5" textLength="59.6" lengthAdjust="spacingAndGlyphs" style="font-family:'Liberation Serif',serif;stroke-width:0.45px">M30x1.5</text>
<line x1="303" y1="985.5" x2="768" y2="985.5" stroke="#111" stroke-width="1.1" /><polygon points="303,985.5 313,982.9 313,988.1" fill="#111" stroke="#111" stroke-width="0.3" stroke-linejoin="round"/><polygon points="768,985.5 758,988.1 758,982.9" fill="#111" stroke="#111" stroke-width="0.3" stroke-linejoin="round"/>
<line x1="303" y1="845" x2="303" y2="990" stroke="#111" stroke-width="1.0" />
<line x1="768" y1="800" x2="768" y2="990" stroke="#111" stroke-width="1.0" />
<text x="519.2" y="983" font-size="19.5" textLength="32" lengthAdjust="spacingAndGlyphs" style="font-family:'Liberation Serif',serif;stroke-width:0.45px">86.1</text>
<line x1="814.4" y1="628" x2="814.4" y2="898" stroke="#111" stroke-width="1.1" /><polygon points="814.4,628 817,638 811.8,638" fill="#111" stroke="#111" stroke-width="0.3" stroke-linejoin="round"/><polygon points="814.4,898 811.8,888 817,888" fill="#111" stroke="#111" stroke-width="0.3" stroke-linejoin="round"/>
<line x1="400" y1="628" x2="819" y2="628" stroke="#111" stroke-width="1.0" />
<line x1="395" y1="898" x2="819" y2="898" stroke="#111" stroke-width="1.0" />
<text transform="translate(818.2,750.1) rotate(90)" font-size="16.5" textLength="25.6" lengthAdjust="spacingAndGlyphs" style="font-family:'Liberation Sans',sans-serif;stroke-width:0.2px">&#248;50</text>
</svg></body></html>
